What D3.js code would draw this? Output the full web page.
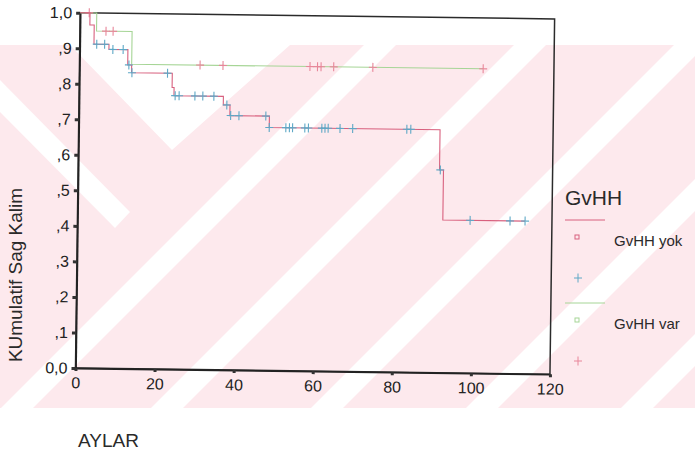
<!DOCTYPE html>
<html>
<head>
<meta charset="utf-8">
<script src="https://cdn.jsdelivr.net/npm/d3@7"></script>
<style>
  body { margin: 0; background: #fff; }
  svg { display: block; font-family: "Liberation Sans", Arial, sans-serif; }
</style>
</head>
<body>
<svg id="chart" width="695" height="453"></svg>
<script>
// Kaplan-Meier data (months, cumulative survival)
const yokTimes = [0, 2.5, 3.6, 7.4, 12.2, 13.2, 23.5, 24.0, 36.5, 38.2, 48.2, 91.4, 92.4];
const yokSurv  = [1, .966, .912, .898, .855, .833, .793, .770, .746, .716, .684, .571, .430];
const yokEnd = 113.2;
const yokCensored = [4.3, 6.3, 8.4, 11.0, 12.5, 13.3, 22.3, 24.3, 25.3, 29.3, 31.3, 34.1, 37.4,
  38.4, 40.5, 47.3, 48.2, 52.4, 53.3, 54.1, 57.2, 58.1, 61.5, 62.3, 63.1, 66.1, 69.3, 83.0, 84.0,
  91.6, 99.3, 109.4, 113.2];

const varTimes = [0, 4.2, 13.2];
const varSurv  = [1, .949, .857];
const varEnd = 102.1;
const varCensored = [2.3, 6.6, 8.4, 30.5, 36.3, 58.3, 60.2, 61.1, 64.3, 74.2, 102.1];

const xTicks = [0, 20, 40, 60, 80, 100, 120];
const yTicks = [0, .1, .2, .3, .4, .5, .6, .7, .8, .9, 1];
const legendLabels = ["GvHH yok", "GvHH var"];

const svg = d3.select("#chart");

// faint pink watermark of the scanned page
const wm = svg.append("g");
wm.append("defs").append("clipPath").attr("id", "band")
  .append("rect").attr("x", 0).attr("y", 45).attr("width", 695).attr("height", 363);
const wmG = wm.append("g").attr("clip-path", "url(#band)");
wmG.append("rect").attr("x", 0).attr("y", 45).attr("width", 695).attr("height", 363).attr("fill", "#fde9ed");
// "/" white bands: x + y = c
[425, 575, 735, 890, 1045].forEach(c => {
  const w = 16;
  wmG.append("polygon").attr("fill", "#fff")
    .attr("points", `${c - w},0 ${c + w},0 ${c + w - 500},500 ${c - w - 500},500`);
});
// V-shaped white region near the top left
wmG.append("polygon").attr("fill", "#fff")
  .attr("points", "70,45 290,45 172,150 ");
wmG.append("polygon").attr("fill", "#fff")
  .attr("points", "0,80 0,112 115,228 130,212");

const x = d3.scaleLinear().domain([0, 120]).range([75.5, 550]);
const y = d3.scaleLinear().domain([0, 1]).range([368, 12.7]);

// the scan is tilted a little clockwise
const g = svg.append("g").attr("transform", "rotate(0.75 75.5 368)");

g.append("rect")
  .attr("x", x(0)).attr("y", y(1))
  .attr("width", x(120) - x(0)).attr("height", y(0) - y(1))
  .attr("fill", "none").attr("stroke", "#2b2b2b").attr("stroke-width", 1.5);

const fmtY = d => d === 0 ? "0,0" : d === 1 ? "1,0" : "," + Math.round(d * 10);

const yAxis = g.append("g").attr("transform", `translate(${x(0)},0)`)
  .call(d3.axisLeft(y).tickValues(yTicks).tickFormat(fmtY).tickSizeInner(4).tickSizeOuter(0).tickPadding(4));
const xAxis = g.append("g").attr("transform", `translate(0,${y(0)})`)
  .call(d3.axisBottom(x).tickValues(xTicks).tickSizeInner(3).tickSizeOuter(0).tickPadding(6));

[yAxis, xAxis].forEach(a => {
  a.select(".domain").attr("stroke", "#222").attr("stroke-width", 1.8);
  a.selectAll(".tick line").attr("stroke", "#333").attr("stroke-width", 3);
  a.selectAll(".tick text").attr("fill", "#222").style("font-size", "16px")
    .style("font-family", "'Liberation Sans', Arial, sans-serif");
});

// step survival lookup
function survAt(times, surv, t) {
  let s = surv[0];
  times.forEach((tt, i) => { if (t >= tt) s = surv[i]; });
  return s;
}

const stepLine = d3.line().x(d => x(d[0])).y(d => y(d[1])).curve(d3.curveStepAfter);
const plus = "M-4,0H4M0,-4.5V4.5";

function drawGroup(times, surv, end, cens, lineColor, censColor) {
  const pts = times.map((t, i) => [t, surv[i]]);
  pts.push([end, surv[surv.length - 1]]);
  g.append("path").attr("d", stepLine(pts))
    .attr("fill", "none").attr("stroke", lineColor).attr("stroke-width", 1.1);
  g.selectAll(null).data(cens).enter().append("path")
    .attr("d", plus)
    .attr("transform", t => `translate(${x(t)},${y(survAt(times, surv, t))})`)
    .attr("stroke", censColor).attr("stroke-width", 1.1).attr("fill", "none");
}

drawGroup(varTimes, varSurv, varEnd, varCensored, "#a6d596", "#e8869a");
drawGroup(yokTimes, yokSurv, yokEnd, yokCensored, "#d8607e", "#5ea8c6");

// axis titles
svg.append("text")
  .attr("transform", "translate(22,275) rotate(-90)")
  .attr("text-anchor", "middle").attr("fill", "#2a2a2a")
  .style("font-size", "19px").text("KUmulatif Sag Kalim");
svg.append("text").attr("x", 78).attr("y", 447)
  .attr("fill", "#2a2a2a").style("font-size", "19px").text("AYLAR");

// legend
const lg = svg.append("g");
lg.append("text").attr("x", 565).attr("y", 205).attr("fill", "#2a2a2a")
  .style("font-size", "21px").text("GvHH");
const legendRows = [
  { line: "#d8607e", sq: "#d8607e", cens: "#5ea8c6", y: 220 },
  { line: "#a6d596", sq: "#a6d596", cens: "#e8869a", y: 303 }
];
legendRows.forEach((r, i) => {
  lg.append("line").attr("x1", 565).attr("x2", 605).attr("y1", r.y).attr("y2", r.y)
    .attr("stroke", r.line).attr("stroke-width", 1);
  lg.append("rect").attr("x", 575).attr("y", r.y + 15).attr("width", 4).attr("height", 4)
    .attr("fill", "none").attr("stroke", r.sq).attr("stroke-width", 1);
  lg.append("text").attr("x", 614).attr("y", r.y + 26).attr("fill", "#2a2a2a")
    .style("font-size", "15px").text(legendLabels[i]);
  lg.append("path").attr("d", plus).attr("transform", `translate(578,${r.y + 58})`)
    .attr("stroke", r.cens).attr("stroke-width", 1).attr("fill", "none");
});
</script>
</body>
</html>
